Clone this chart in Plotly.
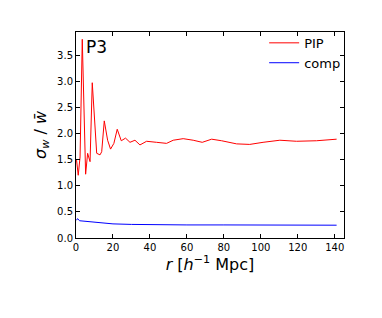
import plotly.graph_objects as go

# PIP (red) series
r_pip = [0.3, 1.2, 2.2, 3.4, 5.2, 6.3, 7.6, 8.8, 11.2, 13.0, 13.9, 15.3, 17.1, 18.7,
         20.5, 22.3, 24.5, 26.8, 29.2, 31.9, 34.6, 38.2, 43.6, 49.0, 52.6, 58.0,
         63.4, 68.3, 73.4, 78.8, 86.9, 94.0, 101.2, 110.3, 119.3, 130.1, 141.0]
v_pip = [1.49, 1.20, 1.55, 3.80, 1.22, 1.62, 1.46, 2.97, 1.62, 1.59, 1.65, 2.24, 1.87, 1.70,
         1.81, 2.08, 1.86, 1.91, 1.83, 1.87, 1.78, 1.85, 1.83, 1.81, 1.87, 1.90,
         1.87, 1.83, 1.89, 1.86, 1.80, 1.79, 1.83, 1.87, 1.85, 1.86, 1.89]

# comp (blue) series
r_comp = [0.3, 0.8, 2.0, 5.0, 10.0, 15.0, 20.0, 30.0, 40.0, 60.0, 80.0, 100.0, 120.0, 141.0]
v_comp = [0.34, 0.37, 0.33, 0.32, 0.30, 0.28, 0.27, 0.26, 0.255, 0.25, 0.25, 0.245, 0.245, 0.245]

x_ticks = [0, 20, 40, 60, 80, 100, 120, 140]
y_ticks = [0.0, 0.5, 1.0, 1.5, 2.0, 2.5, 3.0, 3.5]

FONT = "DejaVu Sans"

fig = go.Figure()
fig.add_trace(go.Scatter(x=r_pip, y=v_pip, mode="lines", name="PIP",
                         line=dict(color="#ff0000", width=1)))
fig.add_trace(go.Scatter(x=r_comp, y=v_comp, mode="lines", name="comp",
                         line=dict(color="#0000ff", width=1)))

axis_common = dict(showline=True, linecolor="black", linewidth=1, mirror="ticks",
                   ticks="inside", ticklen=4, tickcolor="black", showgrid=False,
                   zeroline=False, automargin=False,
                   tickfont=dict(family=FONT, size=10, color="black"))

fig.update_xaxes(range=[0, 145], tickvals=x_ticks, ticktext=[str(t) for t in x_ticks],
                 title=dict(text="<i>r</i> [<i>h</i><sup>−1</sup> Mpc]",
                            font=dict(family=FONT, size=16, color="black"), standoff=6),
                 **axis_common)
fig.update_yaxes(range=[0, 3.94], tickvals=y_ticks, ticktext=[f"{t:.1f}" for t in y_ticks],
                 title=dict(text="<i>σ</i><sub><i>w</i></sub> / <i>w\u0304</i>",
                            font=dict(family=FONT, size=16, color="black"), standoff=6),
                 **axis_common)

fig.add_annotation(x=0.03, y=0.985, xref="paper", yref="paper", xanchor="left", yanchor="top",
                   text="P3", showarrow=False, font=dict(family=FONT, size=17, color="black"))

# page body adds an 8px offset, so margins are shifted accordingly
fig.update_layout(
    width=382, height=318,
    margin=dict(l=68, r=46, t=24, b=88),
    paper_bgcolor="white", plot_bgcolor="white",
    font=dict(family=FONT, color="black"),
    legend=dict(x=1.008, y=1.02, xanchor="right", yanchor="top", bgcolor="rgba(0,0,0,0)",
                font=dict(family=FONT, size=13, color="black"), itemwidth=30,
                tracegroupgap=0),
)

fig.write_html("out.html")
